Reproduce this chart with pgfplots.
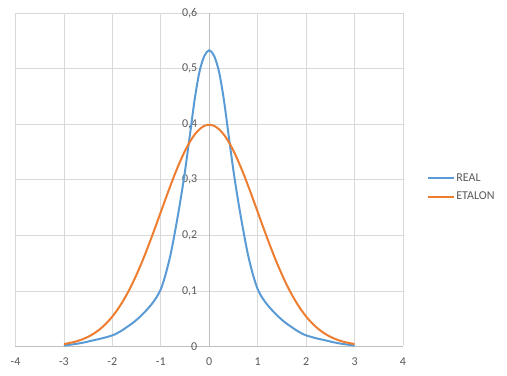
\documentclass[border=0pt]{standalone}
\usepackage{pgfplots}
\pgfplotsset{compat=1.18}
\usepackage{fontspec}
\setmainfont{Carlito}
\definecolor{cblue}{HTML}{5B9BD5}
\definecolor{corange}{HTML}{ED7D31}
\definecolor{ctext}{HTML}{595959}
\definecolor{cgrid}{HTML}{D9D9D9}
\definecolor{caxis}{HTML}{BFBFBF}
\begin{document}
\begin{tikzpicture}[font=\fontsize{12bp}{14bp}\selectfont]
\useasboundingbox (0,0) rectangle (507bp,376bp);
\begin{axis}[
  at={(15.5bp,29.5bp)}, anchor=south west,
  scale only axis, width=387.5bp, height=333.5bp,
  xmin=-4, xmax=4, ymin=0, ymax=0.6,
  axis lines=middle,
  axis line style={-, draw=caxis, line width=0.75bp},
  hide obscured x ticks=false, hide obscured y ticks=false,
  xtick={-4,-3,-2,-1,0,1,2,3,4},
  ytick={0,0.1,0.2,0.3,0.4,0.5,0.6},
  major tick length=0pt,
  grid=major,
  grid style={draw=cgrid, line width=0.75bp},
  tick label style={text=ctext},
  xticklabel style={yshift=-7.5bp},
  yticklabel style={xshift=-8.5bp},
  /pgf/number format/assume math mode=true,
  /pgf/number format/use comma,
  /pgf/number format/fixed,
  legend style={draw=none, fill=none, at={(1.061,0.477)}, anchor=west,
    text=ctext, row sep=6bp, inner sep=0pt,
    nodes={inner sep=1.5bp}},
  legend cell align=left,
  legend image code/.code={\draw[#1] (0bp,0bp) -- (26bp,0bp);},
]
\addplot[cblue, line width=2bp, smooth] coordinates {
(-3.0,0.002) (-2.8,0.004) (-2.6,0.007) (-2.4,0.011) (-2.2,0.015)
(-2.0,0.020) (-1.9,0.024) (-1.8,0.029) (-1.7,0.035) (-1.6,0.041) (-1.5,0.048)
(-1.4,0.056) (-1.3,0.065) (-1.2,0.075) (-1.1,0.087) (-1.0,0.103) (-0.9,0.130)
(-0.8,0.165) (-0.7,0.210) (-0.6,0.260) (-0.5,0.316) (-0.4,0.380) (-0.3,0.445)
(-0.2,0.495) (-0.1,0.523) (0,0.533)
(0.1,0.523) (0.2,0.495) (0.3,0.445) (0.4,0.380) (0.5,0.316) (0.6,0.260)
(0.7,0.210) (0.8,0.165) (0.9,0.130) (1.0,0.103) (1.1,0.087) (1.2,0.075)
(1.3,0.065) (1.4,0.056) (1.5,0.048) (1.6,0.041) (1.7,0.035) (1.8,0.029)
(1.9,0.024) (2.0,0.020) (2.2,0.015) (2.4,0.011) (2.6,0.007)
(2.8,0.004) (3.0,0.002)
};
\addlegendentry{REAL}
\addplot[corange, line width=2bp, smooth] coordinates {
(-3.0,0.0044) (-2.9,0.0060) (-2.8,0.0079) (-2.7,0.0104) (-2.6,0.0136) (-2.5,0.0175)
(-2.4,0.0224) (-2.3,0.0283) (-2.2,0.0355) (-2.1,0.0440) (-2.0,0.0540) (-1.9,0.0656)
(-1.8,0.0790) (-1.7,0.0940) (-1.6,0.1109) (-1.5,0.1295) (-1.4,0.1497) (-1.3,0.1714)
(-1.2,0.1942) (-1.1,0.2179) (-1.0,0.2420) (-0.9,0.2661) (-0.8,0.2897) (-0.7,0.3123)
(-0.6,0.3332) (-0.5,0.3521) (-0.4,0.3683) (-0.3,0.3814) (-0.2,0.3910) (-0.1,0.3970)
(0,0.3989)
(0.1,0.3970) (0.2,0.3910) (0.3,0.3814) (0.4,0.3683) (0.5,0.3521) (0.6,0.3332)
(0.7,0.3123) (0.8,0.2897) (0.9,0.2661) (1.0,0.2420) (1.1,0.2179) (1.2,0.1942)
(1.3,0.1714) (1.4,0.1497) (1.5,0.1295) (1.6,0.1109) (1.7,0.0940) (1.8,0.0790)
(1.9,0.0656) (2.0,0.0540) (2.1,0.0440) (2.2,0.0355) (2.3,0.0283) (2.4,0.0224)
(2.5,0.0175) (2.6,0.0136) (2.7,0.0104) (2.8,0.0079) (2.9,0.0060) (3.0,0.0044)
};
\addlegendentry{ETALON}
\end{axis}
\end{tikzpicture}
\end{document}
